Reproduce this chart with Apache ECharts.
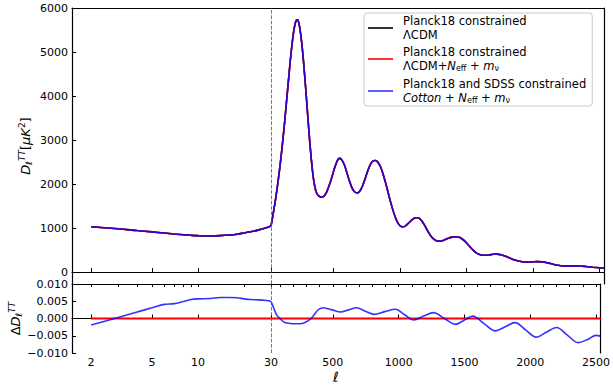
<!DOCTYPE html>
<html><head><meta charset="utf-8">
<script src="https://cdn.jsdelivr.net/npm/echarts@6/dist/echarts.min.js"></script>
<style>html,body{margin:0;padding:0;background:#fff}#c{width:613px;height:386px}</style>
</head><body><div id="c"></div>
<script>
// ---- data ----
const ellLow = [2,3,4,5,6,7,8,9,10,12,14,16,18,20,22,25,28,30];
const dlLow  = [1030,985,945,915,888,866,848,836,828,822,828,842,862,890,915,960,1010,1045];
const ellHigh = [30,40,50,60,70,80,90,100,110,120,130,140,150,160,170,180,190,200,210,220,
 230,240,250,260,270,280,290,300,310,320,330,340,350,360,370,380,390,400,415,430,
 450,470,490,510,530,545,560,580,600,620,640,660,680,700,720,740,760,780,800,815,
 830,850,870,890,910,930,950,970,990,1010,1025,1040,1060,1080,1100,1120,1135,1150,1170,1190,
 1210,1230,1250,1270,1290,1310,1330,1360,1390,1420,1440,1460,1490,1520,1550,1580,1610,1640,1670,1700,
 1730,1760,1790,1830,1870,1910,1950,1990,2030,2070,2110,2150,2190,2230,2270,2310,2350,2400,2450,2500,2535];
const dlHigh = [1045,1210,1390,1570,1770,1990,2220,2470,2740,3030,
 3330,3650,3980,4310,4640,4950,5220,5450,5620,5720,
 5730,5650,5480,5240,4940,4590,4210,3810,3410,3020,
 2670,2360,2110,1940,1820,1760,1725,1710,1705,1730,
 1830,1990,2180,2380,2540,2585,2560,2450,2270,2070,
 1910,1820,1800,1850,1970,2140,2320,2460,2530,2535,
 2510,2420,2260,2050,1820,1590,1380,1210,1090,1035,
 1030,1045,1100,1160,1210,1235,1235,1210,1140,1040,
 930,830,760,720,705,708,725,765,795,805,
 798,770,700,600,500,425,390,382,390,405,
 408,395,365,315,270,240,228,232,238,232,
 210,180,155,140,136,138,138,128,112,98,90];
const dResLow = [-0.0019,0.0003,0.0019,0.0031,0.0041,0.0043,0.0049,0.0055,0.0057,0.0058,0.0061,0.0061,0.0060,0.0057,0.0055,0.0054,0.0052,0.0050];
const ellResHigh = [30,45,60,75,98,123,150,200,250,280,310,336,360,385,410,430,455,495,560,620,
 680,748,815,895,975,1045,1115,1190,1265,1348,1431,1497,1563,1649,1735,1810,1885,1965,2045,2122,
 2200,2282,2365,2440,2500,2535];
const dResHigh = [0.0049,0.0036,0.0021,0.0009,0.0000,-0.0009,-0.0013,-0.0015,-0.0015,-0.0013,
 -0.0007,0.0000,0.0012,0.0024,0.0030,0.0031,0.0029,0.0025,0.0019,0.0025,
 0.0031,0.0021,0.0012,0.0020,0.0027,0.0011,-0.0004,0.0007,0.0017,0.0000,
 -0.0017,-0.0005,0.0007,-0.0015,-0.0036,-0.0024,-0.0012,-0.0033,-0.0054,-0.0040,
 -0.0026,-0.0048,-0.0070,-0.0060,-0.0049,-0.0051];
const refEllLow = [2, 30];
const refEllHigh = [30, 2535];
const refDelta = [0, 0];
const yTicksTop = [0,1000,2000,3000,4000,5000,6000];
const xLabelsLog = [2,5,10,30];
const xTicksLog = [2,3,4,5,6,7,8,9,10,20,30];
const xLabelsLin = [500,1000,1500,2000,2500];
const xTicksLin = [100,200,300,400,500,600,700,800,900,1000,1100,1200,1300,1400,1500,1600,1700,1800,1900,2000,2100,2200,2300,2400,2500];
const legendNames = ['lcdm','ext','cotton'];

// ---- chart ----
const FONT = 'DejaVu Sans';
const pairs = (xs, ys) => xs.map((x, i) => [x, ys[i]]);
const BLACK = '#000000', RED = '#ff0000', BLUE = 'rgba(0,0,255,0.8)';
const DASH_RED = 'rgba(220,30,30,0.8)';
const axLine = {show: true, lineStyle: {color: '#000', width: 1.2}};
const noLabel = {show: false};
const noTick = {show: false};
const noSplit = {show: false};
const tickStyle = {color: '#000', width: 1};
const lab = {color: '#000', fontSize: 11, fontFamily: FONT};

function logAx(grid, pos, extra) {
  return Object.assign({type: 'log', logBase: 10, gridIndex: grid, position: pos, min: 1.5, max: 30,
    axisLine: axLine, axisTick: noTick, axisLabel: noLabel, splitLine: noSplit, minorTick: {show:false}}, extra || {});
}
function linAx(grid, pos, extra) {
  return Object.assign({type: 'value', gridIndex: grid, position: pos, min: 30, max: 2535,
    axisLine: axLine, axisTick: noTick, axisLabel: noLabel, splitLine: noSplit}, extra || {});
}

const mathRich = (fs, lh) => ({
  n: {fontSize: fs, lineHeight: lh, fontFamily: FONT, color: '#000'},
  i: {fontSize: fs, lineHeight: lh, fontFamily: FONT, fontStyle: 'italic', color: '#000'},
  sub: {fontSize: Math.round(fs*0.72), lineHeight: Math.round(fs*0.55), verticalAlign: 'bottom', fontFamily: FONT, color: '#000'},
  subi: {fontSize: Math.round(fs*0.72), lineHeight: Math.round(fs*0.55), verticalAlign: 'bottom', fontFamily: FONT, fontStyle: 'italic', color: '#000'},
  sup: {fontSize: Math.round(fs*0.72), lineHeight: Math.round(fs*0.72), verticalAlign: 'top', fontFamily: FONT, color: '#000'},
  supi: {fontSize: Math.round(fs*0.72), lineHeight: Math.round(fs*0.72), verticalAlign: 'top', fontFamily: FONT, fontStyle: 'italic', color: '#000'}
});

const legendText = {
  lcdm: '{n|Planck18 constrained}\n{n|ΛCDM}',
  ext: '{n|Planck18 constrained}\n{n|ΛCDM+}{i|N}{sub|eff}{n| + }{i|m}{sub|ν}',
  cotton: '{n|Planck18 and SDSS constrained}\n{i|Cotton}{n| + }{i|N}{sub|eff}{n| + }{i|m}{sub|ν}'
};

function line(name, color, xi, yi, data, z, extra) {
  return Object.assign({type: 'line', name: name, xAxisIndex: xi, yAxisIndex: yi, data: data,
    showSymbol: false, symbol: 'none', smooth: 0.35, z: z, silent: true, animation: false,
    lineStyle: {color: color, width: 1.6}, itemStyle: {color: color}}, extra || {});
}
const vlineStyle = {color: DASH_RED, width: 1, type: [3.7, 1.6]};
const vline = {silent: true, symbol: 'none', label: {show: false},
  lineStyle: vlineStyle, itemStyle: {color: DASH_RED},
  data: [{xAxis: 30, lineStyle: vlineStyle}], animation: false};
const fmtInt = v => String(Math.round(v));

const option = {
  animation: false,
  backgroundColor: '#fff',
  textStyle: {fontFamily: FONT},
  grid: [
    {left: 72, top: 8, width: 199, height: 276},
    {left: 271, top: 8, width: 333, height: 276},
    {left: 72, top: 284, width: 199, height: 69},
    {left: 271, top: 284, width: 333, height: 69}
  ],
  xAxis: [
    logAx(0, 'bottom', {axisTick: {show: true, inside: true, length: 4, customValues: xLabelsLog, lineStyle: tickStyle}}),
    logAx(0, 'top'),
    linAx(1, 'bottom', {axisTick: {show: true, inside: true, length: 4, customValues: xLabelsLin, lineStyle: tickStyle}}),
    linAx(1, 'top'),
    logAx(2, 'bottom', {axisTick: {show: true, inside: true, length: 4, customValues: xLabelsLog, lineStyle: tickStyle},
      axisLabel: Object.assign({show: true, margin: 4, customValues: xLabelsLog, formatter: fmtInt}, lab)}),
    logAx(2, 'top', {axisTick: {show: true, inside: true, length: 3, customValues: xTicksLog, lineStyle: tickStyle}}),
    linAx(3, 'bottom', {axisTick: {show: true, inside: true, length: 4, customValues: xLabelsLin, lineStyle: tickStyle},
      axisLabel: Object.assign({show: true, margin: 4, customValues: xLabelsLin, formatter: fmtInt}, lab)}),
    linAx(3, 'top', {axisTick: {show: true, inside: true, length: 3, customValues: xTicksLin, lineStyle: tickStyle}})
  ],
  yAxis: [
    {type: 'value', gridIndex: 0, position: 'left', min: -270, max: 6000,
      axisLine: axLine, splitLine: noSplit,
      axisTick: {show: true, inside: true, length: 4, customValues: yTicksTop, lineStyle: tickStyle},
      axisLabel: Object.assign({margin: 4, customValues: yTicksTop, formatter: fmtInt}, lab),
      name: '{i|D}{subi|ℓ}{supi|TT}{n|[}{i|μK}{sup|2}{n|]}', nameLocation: 'middle', nameRotate: 90, nameGap: 39,
      nameTextStyle: {fontSize: 13, fontFamily: FONT, rich: mathRich(13, 16)}},
    {type: 'value', gridIndex: 1, position: 'right', min: -270, max: 6000,
      axisLine: axLine, axisTick: noTick, axisLabel: noLabel, splitLine: noSplit},
    {type: 'value', gridIndex: 2, position: 'left', min: -0.01, max: 0.01, interval: 0.005,
      axisLine: axLine, splitLine: noSplit,
      axisTick: {show: true, inside: true, length: 4, lineStyle: tickStyle},
      axisLabel: Object.assign({margin: 4, formatter: v => (v < -1e-9 ? '\u2212' : '') + Math.abs(v).toFixed(3)}, lab),
      name: '{n|Δ}{i|D}{subi|ℓ}{supi|TT}', nameLocation: 'middle', nameRotate: 90, nameGap: 46,
      nameTextStyle: {fontSize: 13, fontFamily: FONT, rich: mathRich(13, 16)}},
    {type: 'value', gridIndex: 3, position: 'right', min: -0.01, max: 0.01, interval: 0.005,
      axisLine: axLine, axisTick: noTick, axisLabel: noLabel, splitLine: noSplit}
  ],
  legend: {
    data: legendNames, orient: 'vertical', left: 364, top: 13,
    padding: [2, 6, 1, 4], itemGap: 5, itemWidth: 25, itemHeight: 1.6, icon: 'rect',
    backgroundColor: '#fff', borderColor: '#cccccc', borderWidth: 1, borderRadius: 3,
    selectedMode: false,
    formatter: n => legendText[n],
    textStyle: {color: '#000', fontSize: 11.5, fontFamily: FONT, padding: [0, 0, 0, 5], rich: mathRich(11.5, 14)}
  },
  series: [
    line('lcdm', BLACK, 0, 0, pairs(ellLow, dlLow), 2),
    line('ext', RED, 0, 0, pairs(ellLow, dlLow), 3),
    line('cotton', BLUE, 0, 0, pairs(ellLow, dlLow), 4),
    line('lcdm', BLACK, 2, 1, pairs(ellHigh, dlHigh), 2),
    line('ext', RED, 2, 1, pairs(ellHigh, dlHigh), 3, {markLine: vline}),
    line('cotton', BLUE, 2, 1, pairs(ellHigh, dlHigh), 4),
    line('lcdm', BLACK, 4, 2, pairs(refEllLow, refDelta), 2, {smooth: false}),
    line('ext', RED, 4, 2, pairs(refEllLow, refDelta), 3, {smooth: false, lineStyle: {color: RED, width: 1.3}}),
    line('cotton', BLUE, 4, 2, pairs(ellLow, dResLow), 4),
    line('lcdm', BLACK, 6, 3, pairs(refEllHigh, refDelta), 2, {smooth: false}),
    line('ext', RED, 6, 3, pairs(refEllHigh, refDelta), 3, {smooth: false, lineStyle: {color: RED, width: 1.3}, markLine: vline}),
    line('cotton', BLUE, 6, 3, pairs(ellResHigh, dResHigh), 4)
  ],
  graphic: [
    {type: 'text', x: 336, y: 377, silent: true,
      style: {text: 'ℓ', fontSize: 14, lineHeight: 14, fontFamily: FONT, fontStyle: 'italic', align: 'center', verticalAlign: 'middle', fill: '#000'}}
  ]
};
const chart = echarts.init(document.getElementById('c'), null, {renderer: 'svg', width: 613, height: 386});
chart.setOption(option);
</script></body></html>
